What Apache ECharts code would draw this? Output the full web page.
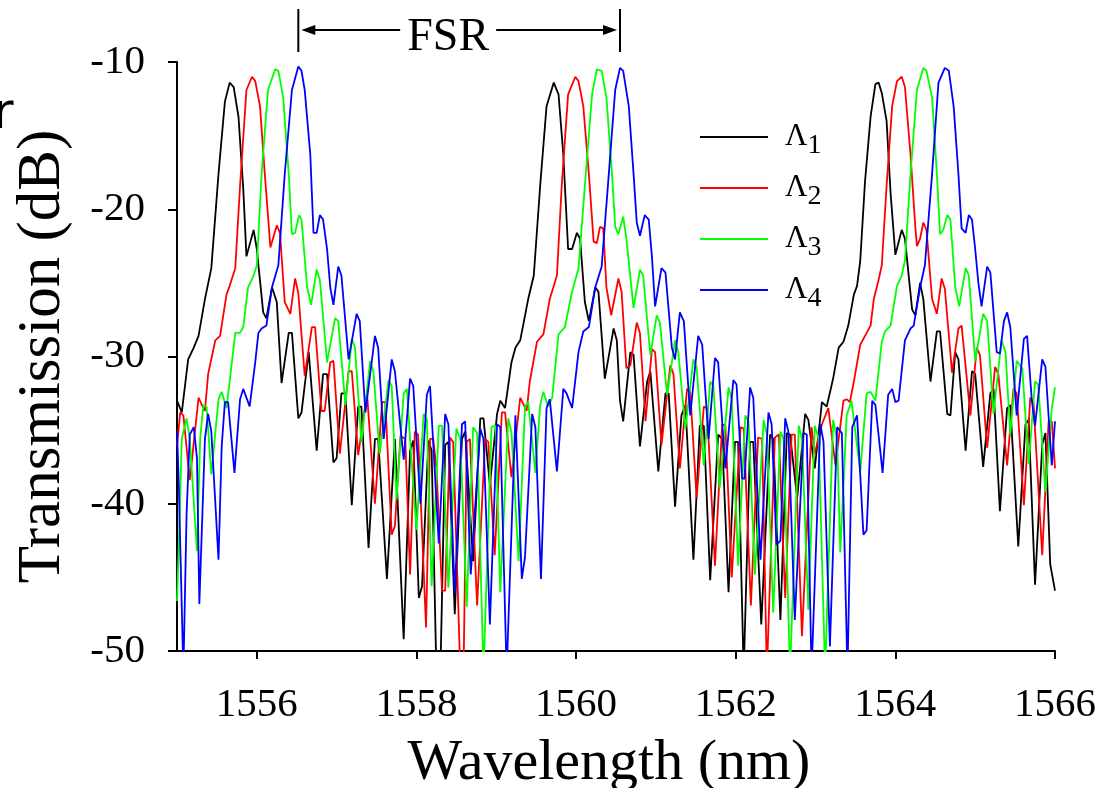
<!DOCTYPE html>
<html><head><meta charset="utf-8">
<script src="https://cdn.jsdelivr.net/npm/echarts@6/dist/echarts.min.js"></script>
<style>html,body{margin:0;padding:0;background:#fff}#c{width:1117px;height:788px}</style>
</head><body><div id="c"></div>
<script>
const xTicks = [1556, 1558, 1560, 1562, 1564, 1566];
const yTicks = [-50, -40, -30, -20, -10];
const seriesNames = ['Λ1', 'Λ2', 'Λ3', 'Λ4'];
const fsrRange = [1556.52, 1560.55];
const fsrLabel = 'FSR';

const lambda1 = [
[1555.00,-33.0],[1555.06,-33.8],[1555.14,-30.2],[1555.21,-29.4],[1555.27,-28.6],[1555.35,-26.1],[1555.43,-24.0],[1555.52,-17.6],[1555.60,-12.7],[1555.66,-11.4],
[1555.71,-11.7],[1555.77,-13.7],[1555.83,-18.6],[1555.87,-23.2],[1555.96,-21.4],[1556.00,-22.7],[1556.08,-27.0],[1556.12,-27.4],[1556.19,-25.3],[1556.25,-26.3],
[1556.31,-31.8],[1556.40,-28.4],[1556.44,-28.4],[1556.52,-34.2],[1556.56,-33.8],[1556.65,-29.7],[1556.75,-36.4],[1556.83,-31.2],[1556.88,-31.2],[1556.96,-37.2],
[1557.00,-36.9],[1557.06,-32.5],[1557.11,-32.5],[1557.19,-40.1],[1557.27,-33.4],[1557.31,-33.4],[1557.40,-43.0],[1557.48,-35.6],[1557.52,-35.6],[1557.63,-45.1],[1557.73,-35.6],
[1557.84,-49.2],[1557.92,-36.4],[1557.96,-35.7],[1558.03,-46.4],[1558.07,-45.6],[1558.15,-35.7],[1558.19,-36.4],[1558.25,-51.5],[1558.30,-51.5],[1558.36,-36.0],
[1558.40,-35.8],[1558.48,-47.5],[1558.57,-35.6],[1558.61,-35.1],[1558.71,-43.9],[1558.80,-34.2],[1558.84,-34.2],[1558.92,-38.7],[1559.01,-33.9],[1559.05,-33.0],
[1559.11,-33.5],[1559.19,-30.4],[1559.24,-29.4],[1559.30,-28.9],[1559.40,-26.1],[1559.47,-24.5],[1559.55,-18.4],[1559.63,-13.0],[1559.72,-11.4],[1559.78,-12.2],
[1559.84,-16.3],[1559.90,-22.7],[1559.95,-22.7],[1560.01,-21.6],[1560.05,-22.0],[1560.11,-26.3],[1560.16,-27.6],[1560.24,-25.3],[1560.28,-25.6],[1560.36,-31.5],
[1560.47,-28.1],[1560.51,-28.9],
[1560.55,-33.0],[1560.59,-34.4],[1560.68,-29.7],[1560.72,-29.9],[1560.80,-36.1],[1560.89,-31.7],[1560.93,-31.0],[1561.03,-37.8],[1561.12,-32.5],[1561.16,-32.5],
[1561.24,-40.2],[1561.32,-34.0],[1561.37,-33.3],[1561.47,-43.8],[1561.55,-34.7],[1561.60,-34.7],[1561.68,-45.2],[1561.78,-35.3],[1561.83,-35.6],[1561.91,-46.0],
[1561.99,-35.8],[1562.03,-35.8],[1562.10,-51.5],[1562.12,-51.5],[1562.18,-35.8],[1562.22,-35.8],[1562.32,-48.2],[1562.43,-35.3],[1562.47,-35.6],[1562.56,-47.9],
[1562.64,-35.2],[1562.68,-35.3],[1562.77,-39.6],[1562.87,-33.9],[1562.91,-34.3],[1562.99,-37.6],[1563.08,-33.1],[1563.14,-33.4],[1563.22,-31.5],
[1563.29,-29.4],[1563.35,-29.0],[1563.41,-27.9],[1563.48,-25.8],[1563.52,-25.2],[1563.56,-23.5],[1563.62,-18.1],[1563.69,-13.7],[1563.75,-11.5],[1563.79,-11.4],
[1563.83,-12.1],[1563.89,-14.0],[1563.94,-18.9],[1564.00,-23.1],[1564.08,-21.4],[1564.12,-22.0],[1564.21,-26.8],[1564.25,-27.2],[1564.31,-25.0],[1564.35,-26.1],
[1564.44,-31.7],[1564.52,-28.3],[1564.56,-28.3],[1564.65,-33.9],[1564.69,-34.0],[1564.75,-29.7],[1564.79,-30.2],[1564.88,-36.4],[1564.96,-31.0],[1565.00,-31.2],
[1565.10,-37.5],[1565.19,-32.5],[1565.23,-32.2],[1565.31,-40.5],[1565.40,-33.5],[1565.44,-33.3],[1565.54,-42.9],[1565.63,-34.6],[1565.67,-34.3],[1565.75,-45.5],
[1565.84,-36.0],[1565.88,-35.2],[1565.94,-44.1],[1566.00,-45.9]
];

const lambda2 = [
[1555.00,-36.1],[1555.04,-33.8],[1555.08,-34.0],[1555.16,-38.4],[1555.27,-32.8],[1555.33,-33.5],[1555.35,-33.7],[1555.39,-31.2],[1555.48,-28.9],[1555.54,-28.6],
[1555.62,-25.8],[1555.66,-25.2],[1555.73,-24.0],[1555.79,-18.4],[1555.87,-11.9],[1555.94,-11.0],[1555.98,-11.3],[1556.04,-13.0],[1556.10,-17.6],[1556.17,-22.6],
[1556.25,-21.1],[1556.29,-21.6],[1556.35,-26.3],[1556.42,-27.1],[1556.48,-24.7],[1556.52,-25.7],[1556.60,-31.3],[1556.69,-28.0],[1556.73,-28.0],[1556.81,-33.7],
[1556.85,-33.7],[1556.92,-30.4],[1556.96,-30.3],[1557.04,-36.6],[1557.15,-31.0],[1557.19,-31.0],[1557.27,-36.7],[1557.38,-32.5],[1557.48,-40.0],[1557.57,-33.1],
[1557.61,-33.1],[1557.69,-42.1],[1557.73,-41.5],[1557.80,-35.4],
[1557.86,-35.6],[1557.92,-44.8],[1557.98,-35.1],[1558.02,-35.3],[1558.12,-48.4],[1558.17,-35.6],[1558.21,-35.6],[1558.25,-37.6],[1558.32,-45.9],[1558.36,-45.9],
[1558.42,-35.5],[1558.46,-35.8],[1558.55,-51.5],[1558.59,-51.5],[1558.63,-35.8],[1558.67,-35.6],[1558.76,-46.9],[1558.86,-35.6],[1558.90,-35.8],[1558.98,-43.5],
[1559.07,-33.8],[1559.11,-33.8],[1559.19,-38.2],[1559.30,-32.8],[1559.38,-33.7],[1559.42,-31.7],[1559.51,-29.0],[1559.59,-28.5],[1559.67,-26.1],[1559.76,-24.5],
[1559.82,-18.4],[1559.90,-12.2],[1559.99,-11.0],[1560.03,-11.3],[1560.09,-13.0],[1560.16,-17.6],[1560.22,-22.2],[1560.26,-22.3],[1560.30,-21.2],[1560.34,-21.3],
[1560.38,-25.3],[1560.44,-27.2],[1560.53,-24.7],[1560.57,-25.6],
[1560.63,-30.8],[1560.68,-30.6],[1560.76,-27.7],[1560.80,-28.4],[1560.87,-34.4],[1560.95,-29.5],[1560.99,-29.7],[1561.07,-36.0],[1561.18,-30.6],[1561.22,-31.2],
[1561.30,-37.6],[1561.39,-32.2],[1561.43,-32.4],[1561.51,-39.6],[1561.60,-33.4],[1561.64,-33.5],[1561.74,-44.2],[1561.83,-34.6],[1561.87,-34.7],[1561.95,-45.0],
[1562.06,-34.8],[1562.10,-34.9],[1562.19,-46.9],[1562.28,-35.5],[1562.33,-35.6],[1562.39,-51.5],[1562.41,-51.5],[1562.49,-35.5],[1562.54,-35.3],[1562.62,-46.4],
[1562.70,-35.3],[1562.74,-35.3],[1562.83,-49.0],[1562.95,-34.8],[1562.99,-36.6],[1563.08,-34.6],[1563.16,-33.5],[1563.25,-37.4],
[1563.29,-35.6],[1563.35,-33.0],[1563.39,-32.9],[1563.43,-33.1],[1563.48,-31.7],[1563.56,-29.2],[1563.62,-28.6],[1563.69,-27.9],[1563.73,-26.1],[1563.79,-24.8],
[1563.83,-23.8],[1563.89,-18.4],[1563.96,-13.0],[1564.02,-11.3],[1564.08,-11.0],[1564.12,-11.7],[1564.19,-16.3],[1564.25,-21.2],[1564.27,-22.5],[1564.31,-22.0],
[1564.35,-20.9],[1564.39,-21.4],[1564.46,-26.1],[1564.52,-27.1],[1564.58,-24.7],[1564.62,-25.4],[1564.71,-31.1],[1564.79,-28.1],[1564.83,-27.9],[1564.94,-34.0],
[1564.96,-34.0],[1565.02,-29.4],[1565.06,-29.9],[1565.15,-36.2],[1565.25,-30.7],[1565.29,-31.2],[1565.40,-37.4],[1565.48,-32.2],[1565.52,-32.5],[1565.61,-40.1],
[1565.69,-32.8],[1565.73,-33.1],[1565.84,-43.5],[1565.92,-34.4],[1565.96,-34.4],[1566.00,-37.6]
];

const lambda3 = [
[1555.00,-46.6],[1555.02,-43.3],[1555.06,-35.6],[1555.12,-34.2],[1555.16,-35.6],[1555.25,-43.2],[1555.29,-35.6],[1555.33,-33.3],[1555.37,-33.4],[1555.43,-38.0],
[1555.52,-32.9],[1555.56,-32.4],[1555.62,-33.5],[1555.66,-31.7],[1555.73,-28.4],[1555.79,-28.4],[1555.83,-28.0],[1555.89,-25.3],[1555.96,-24.5],[1556.00,-23.8],
[1556.06,-17.6],[1556.14,-11.9],[1556.23,-10.5],[1556.27,-10.6],[1556.33,-12.4],[1556.40,-17.6],[1556.44,-21.7],[1556.48,-21.6],[1556.53,-20.4],[1556.56,-20.7],
[1556.63,-25.3],[1556.68,-26.5],[1556.75,-24.1],[1556.79,-24.8],[1556.88,-30.4],[1556.98,-27.4],[1557.02,-27.6],[1557.11,-33.3],[1557.19,-28.8],[1557.23,-29.4],
[1557.31,-35.8],[1557.42,-30.3],[1557.46,-31.0],[1557.54,-36.6],[1557.65,-31.6],[1557.69,-32.0],[1557.75,-39.7],
[1557.84,-32.5],[1557.88,-32.2],[1557.92,-35.6],[1558.00,-41.8],[1558.09,-33.9],[1558.13,-34.3],[1558.19,-45.6],[1558.28,-34.7],[1558.32,-34.7],[1558.40,-45.7],
[1558.50,-34.9],[1558.55,-35.6],[1558.63,-47.0],[1558.71,-34.8],[1558.76,-35.2],[1558.84,-51.5],[1558.86,-51.5],[1558.94,-34.8],[1558.99,-34.7],[1559.05,-46.0],
[1559.15,-34.2],[1559.19,-35.1],[1559.28,-43.9],[1559.36,-33.4],[1559.40,-33.1],[1559.49,-37.9],[1559.55,-33.3],[1559.59,-32.4],[1559.65,-33.4],[1559.70,-32.8],
[1559.78,-28.5],[1559.86,-28.0],[1559.95,-25.6],[1560.03,-24.0],[1560.11,-18.4],[1560.20,-12.2],[1560.26,-10.5],[1560.32,-10.6],[1560.38,-12.4],[1560.45,-17.6],
[1560.49,-21.2],[1560.53,-21.7],
[1560.59,-20.5],[1560.63,-22.0],[1560.72,-26.7],[1560.80,-24.1],[1560.84,-24.5],[1560.93,-29.9],[1561.01,-27.2],[1561.05,-27.7],[1561.14,-32.6],[1561.24,-28.9],
[1561.28,-29.7],[1561.37,-34.9],[1561.47,-30.2],[1561.51,-30.7],[1561.60,-37.4],[1561.68,-31.7],[1561.72,-32.0],[1561.80,-38.9],[1561.91,-32.1],[1561.95,-32.9],
[1562.03,-44.2],[1562.12,-34.0],[1562.16,-34.4],[1562.24,-44.8],[1562.35,-34.3],[1562.39,-35.3],[1562.47,-47.4],[1562.56,-35.1],[1562.60,-35.6],[1562.68,-51.5],
[1562.79,-34.7],[1562.83,-35.6],[1562.91,-47.2],[1562.99,-34.7],[1563.04,-35.6],[1563.12,-51.5],[1563.22,-34.3],[1563.27,-35.6],
[1563.31,-43.3],[1563.39,-34.0],[1563.45,-33.0],[1563.56,-37.8],[1563.64,-32.5],[1563.69,-32.4],[1563.75,-33.0],[1563.83,-29.0],[1563.87,-28.3],[1563.94,-27.9],
[1564.02,-25.2],[1564.08,-24.5],[1564.12,-23.5],[1564.19,-17.6],[1564.27,-11.9],[1564.35,-10.4],[1564.39,-10.6],[1564.46,-12.4],[1564.52,-17.6],[1564.56,-21.7],
[1564.60,-21.4],[1564.65,-20.4],[1564.69,-20.7],[1564.75,-25.3],[1564.80,-26.6],[1564.88,-24.0],[1564.92,-24.5],[1565.00,-30.3],[1565.10,-27.1],[1565.15,-27.6],
[1565.23,-33.9],[1565.33,-28.9],[1565.38,-29.7],[1565.44,-35.3],[1565.52,-30.3],[1565.59,-30.8],[1565.67,-37.3],[1565.75,-31.7],[1565.79,-31.9],[1565.88,-39.2],
[1565.96,-33.5],[1566.00,-32.1]
];

const lambda4 = [
[1555.00,-35.1],[1555.02,-38.2],[1555.08,-51.5],[1555.12,-40.7],[1555.16,-35.3],[1555.21,-34.8],[1555.25,-36.9],[1555.28,-46.8],[1555.35,-35.6],[1555.39,-33.9],
[1555.43,-35.1],[1555.52,-43.8],[1555.56,-36.1],[1555.60,-33.1],[1555.64,-33.1],[1555.72,-37.9],[1555.79,-32.9],[1555.83,-32.2],[1555.91,-33.4],[1555.98,-30.4],
[1556.02,-28.4],[1556.06,-28.1],[1556.12,-27.9],[1556.19,-25.3],[1556.27,-23.8],[1556.35,-17.6],[1556.44,-11.9],[1556.52,-10.3],[1556.56,-10.6],[1556.60,-11.9],
[1556.67,-16.3],[1556.71,-21.6],[1556.75,-21.6],[1556.79,-20.4],[1556.83,-20.7],[1556.88,-22.7],[1556.92,-25.3],[1556.96,-26.5],[1557.02,-23.9],[1557.06,-24.5],
[1557.15,-30.2],[1557.25,-27.1],[1557.29,-27.6],[1557.36,-33.8],[1557.48,-28.6],[1557.52,-29.4],[1557.59,-35.6],[1557.69,-30.2],[1557.73,-31.0],
[1557.84,-37.0],[1557.92,-31.5],[1557.96,-32.0],[1558.05,-40.0],[1558.13,-32.6],[1558.17,-32.0],[1558.28,-42.7],[1558.36,-33.9],[1558.40,-34.6],[1558.48,-46.1],
[1558.57,-34.6],[1558.61,-34.4],[1558.68,-44.8],[1558.80,-34.9],[1558.84,-35.6],[1558.92,-48.2],[1559.01,-34.6],[1559.05,-34.8],[1559.13,-51.5],[1559.24,-34.0],
[1559.32,-45.1],[1559.36,-43.6],[1559.45,-33.9],[1559.49,-34.8],[1559.56,-45.1],[1559.63,-33.5],[1559.67,-32.9],[1559.76,-37.8],[1559.84,-32.2],[1559.88,-32.5],
[1559.95,-33.5],[1560.03,-29.7],[1560.09,-28.3],[1560.16,-28.0],[1560.24,-25.3],[1560.32,-23.9],[1560.41,-17.6],[1560.49,-11.9],
[1560.55,-10.4],[1560.59,-10.6],[1560.66,-13.0],[1560.72,-17.6],[1560.76,-20.9],[1560.80,-21.8],[1560.86,-20.4],[1560.91,-20.7],[1560.95,-23.2],[1560.99,-26.6],
[1561.07,-24.0],[1561.12,-24.3],[1561.20,-29.4],[1561.24,-30.2],[1561.30,-27.0],[1561.35,-27.6],[1561.43,-34.0],[1561.53,-28.6],[1561.58,-29.2],[1561.66,-35.6],
[1561.74,-30.1],[1561.78,-30.4],[1561.87,-37.6],[1561.97,-31.6],[1562.01,-31.9],[1562.08,-38.3],[1562.11,-38.3],[1562.18,-32.1],[1562.22,-32.8],[1562.31,-43.8],
[1562.41,-33.8],[1562.45,-34.6],[1562.51,-42.8],[1562.56,-42.5],[1562.62,-34.2],[1562.66,-35.1],[1562.74,-47.9],[1562.85,-35.2],[1562.89,-35.3],[1562.95,-51.5],
[1563.06,-34.6],[1563.10,-35.8],[1563.18,-49.7],[1563.27,-34.8],
[1563.33,-35.2],[1563.40,-51.5],[1563.46,-34.8],[1563.52,-34.0],[1563.60,-42.1],[1563.64,-41.8],[1563.71,-33.0],[1563.75,-33.3],[1563.84,-37.9],[1563.91,-32.6],
[1563.96,-32.2],[1564.00,-33.1],[1564.04,-33.0],[1564.12,-28.9],[1564.19,-28.1],[1564.23,-27.9],[1564.31,-25.3],[1564.37,-23.8],[1564.46,-17.6],[1564.54,-11.4],
[1564.62,-10.4],[1564.67,-10.6],[1564.73,-13.0],[1564.79,-17.6],[1564.83,-21.3],[1564.88,-21.6],[1564.92,-20.4],[1564.96,-20.7],[1565.00,-22.7],[1565.04,-25.0],
[1565.08,-26.6],[1565.15,-23.9],[1565.19,-24.3],[1565.27,-29.7],[1565.31,-29.8],[1565.36,-27.6],[1565.40,-27.0],[1565.44,-28.0],[1565.52,-34.0],[1565.61,-28.8],
[1565.65,-28.6],[1565.71,-33.0],[1565.75,-34.7],[1565.84,-30.2],[1565.88,-30.7],[1565.96,-37.4],[1566.00,-34.4]
];

const seriesData = [lambda1, lambda2, lambda3, lambda4];
const colors = ['#000000', '#ff0000', '#00ff00', '#0000ff'];
const serif = '"Liberation Serif","Times New Roman",Times,serif';

const chart = echarts.init(document.getElementById('c'), null, {renderer: 'canvas'});
const option = {
  animation: false,
  backgroundColor: '#ffffff',
  grid: {left: 177, right: 62, top: 62, bottom: 137, outerBoundsMode: 'none', containLabel: false},
  xAxis: {
    type: 'value', min: 1555, max: 1566,
    name: 'Wavelength (nm)', nameLocation: 'middle', nameGap: 84,
    nameTextStyle: {fontFamily: serif, fontSize: 58, color: '#000', padding: [0, 14, 0, 0]},
    axisLine: {show: true, onZero: false, lineStyle: {color: '#000', width: 2}},
    axisTick: {show: true, customValues: xTicks, length: 8, lineStyle: {color: '#000', width: 2}},
    axisLabel: {customValues: xTicks, formatter: function (v) { return String(v); },
      fontFamily: serif, fontSize: 41, color: '#000', margin: 34},
    splitLine: {show: false}
  },
  yAxis: {
    type: 'value', min: -50, max: -10, interval: 10,
    name: 'Transmission (dB)', nameLocation: 'middle', nameGap: 104,
    nameTextStyle: {fontFamily: serif, fontSize: 61, color: '#000'},
    axisLine: {show: true, onZero: false, lineStyle: {color: '#000', width: 2}},
    axisTick: {show: true, length: 9, lineStyle: {color: '#000', width: 2}},
    axisLabel: {fontFamily: serif, fontSize: 41, color: '#000', margin: 32},
    splitLine: {show: false}
  },
  legend: {
    orient: 'vertical', left: 700, top: 114, padding: 0,
    icon: 'rect', itemWidth: 68, itemHeight: 2, itemGap: 5,
    data: seriesNames,
    formatter: function (name) { return '{a|' + name.charAt(0) + '}{b|' + name.slice(1) + '}'; },
    textStyle: {
      rich: {
        a: {fontFamily: serif, fontSize: 31, color: '#000', lineHeight: 43, padding: [0, 0, 0, 12]},
        b: {fontFamily: serif, fontSize: 28, color: '#000', lineHeight: 25, padding: [18, 0, 0, 0]}
      }
    }
  },
  series: seriesNames.map(function (n, i) {
    return {
      name: n, type: 'line', data: seriesData[i], symbol: 'none', clip: true,
      lineStyle: {color: colors[i], width: 1.8}, itemStyle: {color: colors[i]}, z: 2 + i
    };
  })
};
chart.setOption(option);

const pL = chart.convertToPixel({xAxisIndex: 0}, fsrRange[0]);
const pR = chart.convertToPixel({xAxisIndex: 0}, fsrRange[1]);
const midX = (pL + pR) / 2 - 11;
const arrowY = 30;
const halfText = 48;
chart.setOption({
  graphic: [
    {type: 'line', shape: {x1: pL, y1: 9, x2: pL, y2: 52}, style: {stroke: '#000', lineWidth: 2}},
    {type: 'line', shape: {x1: pR, y1: 9, x2: pR, y2: 52}, style: {stroke: '#000', lineWidth: 2}},
    {type: 'line', shape: {x1: pL + 8, y1: arrowY, x2: midX - halfText, y2: arrowY}, style: {stroke: '#000', lineWidth: 2}},
    {type: 'line', shape: {x1: midX + halfText, y1: arrowY, x2: pR - 8, y2: arrowY}, style: {stroke: '#000', lineWidth: 2}},
    {type: 'polygon', shape: {points: [[pL + 3, arrowY], [pL + 17, arrowY - 5], [pL + 17, arrowY + 5]]}, style: {fill: '#000'}},
    {type: 'polygon', shape: {points: [[pR - 3, arrowY], [pR - 17, arrowY - 5], [pR - 17, arrowY + 5]]}, style: {fill: '#000'}},
    {type: 'text', x: midX, y: arrowY + 8, style: {text: fsrLabel, font: '46px ' + serif, fill: '#000', align: 'center', verticalAlign: 'middle'}},
    {type: 'text', x: -7, y: 90, style: {text: 'r', font: '50px "DejaVu Sans", sans-serif', fill: '#000', align: 'left', verticalAlign: 'top'}}
  ]
});
</script>
</body></html>
